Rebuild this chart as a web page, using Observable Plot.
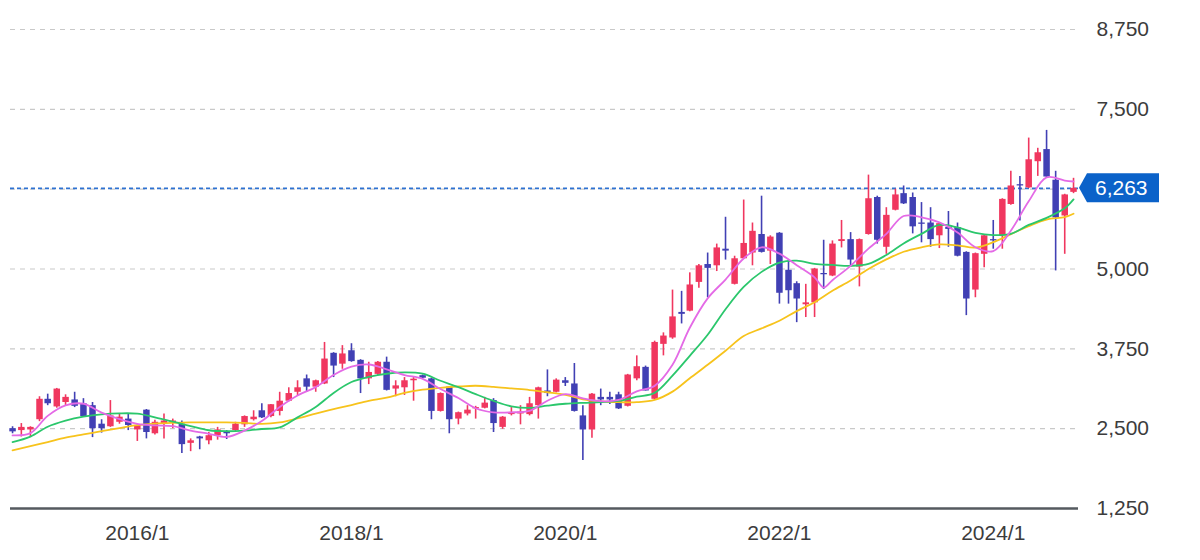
<!DOCTYPE html>
<html><head><meta charset="utf-8">
<script src="https://cdn.jsdelivr.net/npm/d3@7"></script>
<script src="https://cdn.jsdelivr.net/npm/@observablehq/plot@0.6"></script>
<style>
body{margin:0;background:#fff;}
#chart{width:1200px;height:560px;}
</style></head><body><div id="chart"></div>
<script>
// Monthly candles, 2014/11 .. 2024/10
const months = [
  "2014-11","2014-12",
  "2015-01","2015-02","2015-03","2015-04","2015-05","2015-06","2015-07","2015-08","2015-09","2015-10","2015-11","2015-12",
  "2016-01","2016-02","2016-03","2016-04","2016-05","2016-06","2016-07","2016-08","2016-09","2016-10","2016-11","2016-12",
  "2017-01","2017-02","2017-03","2017-04","2017-05","2017-06","2017-07","2017-08","2017-09","2017-10","2017-11","2017-12",
  "2018-01","2018-02","2018-03","2018-04","2018-05","2018-06","2018-07","2018-08","2018-09","2018-10","2018-11","2018-12",
  "2019-01","2019-02","2019-03","2019-04","2019-05","2019-06","2019-07","2019-08","2019-09","2019-10","2019-11","2019-12",
  "2020-01","2020-02","2020-03","2020-04","2020-05","2020-06","2020-07","2020-08","2020-09","2020-10","2020-11","2020-12",
  "2021-01","2021-02","2021-03","2021-04","2021-05","2021-06","2021-07","2021-08","2021-09","2021-10","2021-11","2021-12",
  "2022-01","2022-02","2022-03","2022-04","2022-05","2022-06","2022-07","2022-08","2022-09","2022-10","2022-11","2022-12",
  "2023-01","2023-02","2023-03","2023-04","2023-05","2023-06","2023-07","2023-08","2023-09","2023-10","2023-11","2023-12",
  "2024-01","2024-02","2024-03","2024-04","2024-05","2024-06","2024-07","2024-08","2024-09","2024-10"
];
const openPrices = [
  2500,2470,2480,2640,2960,2840,2910,2950,2890,2860,2570,2530,2600,2650,
  2480,2790,2420,2580,2590,2570,2270,2370,2310,2390,2440,2470,
  2560,2640,2780,2690,2770,2930,3070,3280,3150,3200,3680,3510,
  3720,3570,3280,3350,3540,3120,3140,3250,3330,3280,2770,3150,
  2650,2730,2810,2820,2940,2520,2720,2730,2720,2860,3090,3070,
  3250,3200,2700,2480,2990,2990,3030,2850,3280,3460,2960,3820,
  3920,4320,4340,4790,5070,5050,5310,4760,5160,5250,5540,5280,
  5560,4980,4770,4440,4470,4930,4890,5430,5460,5030,5540,6120,
  5340,5920,6180,6120,5720,5720,5520,5650,5650,5260,4670,5230,
  5460,5520,6010,6320,6270,6680,6870,6390,5830,6200
];
const highPrices = [
  2530,2580,2530,3000,3040,3130,3030,3070,2970,2910,2640,2940,2730,2730,
  2560,2800,2630,2730,2650,2620,2340,2380,2440,2520,2470,2600,
  2700,2780,2890,2880,3070,3140,3250,3340,3260,3850,3690,3800,
  3830,3580,3540,3550,3620,3250,3300,3300,3340,3290,3060,3160,
  2760,2860,2850,2990,2970,2690,2830,2860,2990,3150,3420,3280,
  3300,3520,2860,3050,3120,3070,3070,3350,3640,3480,3870,4000,
  4670,4650,4940,5070,5250,5390,5810,5200,6080,5720,6140,5520,
  5570,5130,4800,4760,5010,5450,5440,5760,5570,5470,6470,6140,
  5960,6250,6300,6190,6040,5960,5720,5900,5720,5270,5250,5530,
  5760,6100,6530,6450,7050,6890,7170,6530,6170,6420
];
const lowPrices = [
  2420,2370,2370,2610,2860,2820,2850,2830,2680,2360,2430,2520,2570,2470,
  2300,2340,2400,2340,2500,2110,2140,2170,2250,2320,2330,2440,
  2520,2620,2660,2670,2700,2920,3010,3070,3070,3190,3300,3430,
  3540,3050,3190,3330,3090,3000,3020,2930,3280,2640,2760,2420,
  2560,2700,2650,2810,2440,2490,2700,2560,2700,2650,3000,3060,
  3160,2760,2000,2350,2860,2880,2800,2840,3250,3090,2950,3640,
  3900,4140,4330,4700,4550,4960,5140,4750,5150,5050,5250,5070,
  4450,4450,4160,4240,4240,4680,4880,5330,5030,4720,5530,5390,
  5230,5910,6010,5550,5410,5340,5320,5340,5190,4270,4550,5020,
  5310,5310,6000,5750,6260,6450,6430,4970,5230,6180
];
const closePrices = [
  2450,2520,2520,2960,2890,3120,2990,2850,2690,2500,2500,2700,2680,2550,
  2550,2440,2600,2620,2620,2250,2310,2340,2390,2480,2420,2570,
  2690,2680,2670,2875,2930,3050,3140,3150,3250,3590,3480,3670,
  3550,3280,3380,3540,3100,3170,3250,3275,3290,2770,3050,2640,
  2750,2790,2830,2900,2580,2680,2755,2760,2890,3140,3050,3260,
  3210,2770,2480,3040,2950,2950,2810,3340,3470,3090,3850,3950,
  4250,4290,4750,5050,5010,5330,5280,5160,5400,5590,5260,5500,
  4620,4660,4530,4470,5000,4910,5390,5460,5140,5460,6100,5450,
  5840,6160,6020,5660,5700,5460,5710,5620,5200,4530,5240,5520,
  5440,6090,6300,6300,6710,6820,6440,5800,6160,6263
];

// Moving averages: [month, value]
const maShort = [
  ["2014-11",2395],["2015-01",2430],["2015-03",2700],["2015-05",2865],["2015-07",2890],["2015-09",2750],["2015-11",2650],
  ["2016-01",2575],["2016-03",2550],["2016-05",2540],["2016-07",2470],["2016-09",2420],["2016-11",2370],
  ["2017-01",2470],["2017-03",2620],["2017-05",2840],["2017-07",3020],["2017-09",3150],["2017-11",3340],
  ["2018-01",3470],["2018-03",3505],["2018-05",3430],["2018-07",3340],["2018-09",3280],["2018-11",3120],
  ["2019-01",2980],["2019-03",2820],["2019-05",2755],["2019-07",2755],["2019-09",2780],["2019-11",2937],
  ["2020-01",3042],["2020-03",2975],["2020-05",2930],["2020-07",2950],["2020-09",3085],["2020-11",3170],
  ["2021-01",3500],["2021-03",4080],["2021-05",4540],["2021-07",4835],["2021-09",5165],["2021-11",5340],
  ["2022-01",5240],["2022-03",5060],["2022-05",4870],["2022-06",4710],["2022-07",4825],["2022-09",5050],["2022-11",5320],
  ["2023-01",5550],["2023-03",5830],["2023-05",5810],["2023-07",5730],["2023-09",5570],["2023-11",5340],
  ["2024-01",5280],["2024-03",5600],["2024-05",6060],["2024-07",6435],["2024-09",6385],["2024-10",6370]
];
const maMid = [
  ["2014-11",2290],["2015-01",2375],["2015-03",2530],["2015-05",2625],["2015-07",2688],["2015-09",2725],["2015-11",2740],
  ["2016-01",2735],["2016-03",2677],["2016-05",2610],["2016-07",2540],["2016-09",2475],["2016-11",2460],
  ["2017-01",2470],["2017-03",2495],["2017-05",2520],["2017-07",2677],["2017-09",2840],["2017-11",3060],
  ["2018-01",3230],["2018-03",3310],["2018-05",3360],["2018-07",3380],["2018-09",3360],["2018-11",3250],
  ["2019-01",3150],["2019-03",3040],["2019-05",2935],["2019-07",2850],["2019-09",2825],["2019-11",2860],
  ["2020-01",2890],["2020-03",2905],["2020-05",2915],["2020-07",2935],["2020-09",3000],["2020-11",3060],
  ["2021-01",3330],["2021-03",3640],["2021-05",3970],["2021-07",4370],["2021-09",4720],["2021-11",4955],
  ["2022-01",5100],["2022-03",5130],["2022-05",5080],["2022-07",5063],["2022-09",5050],["2022-11",5080],
  ["2023-01",5220],["2023-03",5400],["2023-05",5550],["2023-07",5690],["2023-09",5650],["2023-11",5565],
  ["2024-01",5530],["2024-03",5550],["2024-05",5690],["2024-07",5800],["2024-09",5950],["2024-10",6089]
];
const maLong = [
  ["2014-11",2160],["2015-01",2225],["2015-03",2290],["2015-05",2360],["2015-07",2410],["2015-09",2460],["2015-11",2510],
  ["2016-01",2555],["2016-03",2580],["2016-05",2592],["2016-07",2598],["2016-09",2598],["2016-11",2598],
  ["2017-01",2590],["2017-03",2575],["2017-05",2598],["2017-07",2660],["2017-09",2735],["2017-11",2805],
  ["2018-01",2870],["2018-03",2935],["2018-05",2985],["2018-07",3060],["2018-09",3110],["2018-11",3140],
  ["2019-01",3160],["2019-03",3172],["2019-05",3155],["2019-07",3130],["2019-09",3105],["2019-11",3070],
  ["2020-01",3030],["2020-03",2960],["2020-05",2927],["2020-07",2915],["2020-09",2915],["2020-11",2950],
  ["2021-01",3080],["2021-03",3290],["2021-05",3500],["2021-07",3720],["2021-09",3950],["2021-11",4070],
  ["2022-01",4190],["2022-03",4340],["2022-05",4480],["2022-07",4660],["2022-09",4820],["2022-11",5000],
  ["2023-01",5150],["2023-03",5270],["2023-05",5340],["2023-07",5385],["2023-09",5370],["2023-11",5335],
  ["2024-01",5420],["2024-03",5545],["2024-05",5670],["2024-07",5775],["2024-09",5812],["2024-10",5865]
];

const lastPrice = 6263;
const xTickMonths = ["2016-01","2018-01","2020-01","2022-01","2024-01"];
const yLabelTicks = [1250, 2500, 3750, 5000, 7500, 8750];
const yGridTicks = [2500, 3750, 5000, 6250, 7500, 8750];

const RED = "#f0375f", BLUE = "#4140b4";
const parse = d3.utcParse("%Y-%m");
const candles = months.map((m, i) => ({
  date: parse(m), open: openPrices[i], high: highPrices[i], low: lowPrices[i], close: closePrices[i],
  dir: closePrices[i] >= openPrices[i] ? "up" : "down"
}));
const toPts = arr => arr.map(([m, v]) => ({date: parse(m), value: v}));

const chart = Plot.plot({
  width: 1200, height: 560,
  marginLeft: 10, marginRight: 122, marginTop: 29, marginBottom: 52,
  style: {fontFamily: "'Liberation Sans', Arial, sans-serif", fontSize: "21px", color: "#3c3c3c", background: "#fff", overflow: "visible"},
  x: {type: "utc", domain: [new Date(Date.UTC(2014, 9, 25)), new Date(Date.UTC(2024, 9, 18))], label: null},
  y: {domain: [1250, 8750], label: null},
  color: {domain: ["up", "down"], range: [RED, BLUE]},
  marks: [
    Plot.gridY(yGridTicks, {stroke: "#c9c9c9", strokeOpacity: 1, strokeDasharray: "5,5", strokeWidth: 1.2}),
    Plot.ruleY([lastPrice], {stroke: "#2e72d2", strokeDasharray: "4,3", strokeWidth: 1.6}),
    Plot.ruleX(candles, {x: "date", y1: "low", y2: "high", stroke: "dir", strokeWidth: 1.6}),
    Plot.ruleX(candles, {x: "date", y1: "open", y2: "close", stroke: "dir", strokeWidth: 6.5}),
    Plot.line(toPts(maLong), {x: "date", y: "value", stroke: "#f7c31c", strokeWidth: 1.8, curve: "catmull-rom"}),
    Plot.line(toPts(maMid), {x: "date", y: "value", stroke: "#2bc76c", strokeWidth: 1.8, curve: "catmull-rom"}),
    Plot.line(toPts(maShort), {x: "date", y: "value", stroke: "#e46ae6", strokeWidth: 1.8, curve: "catmull-rom"}),
    Plot.ruleY([1250], {stroke: "#555a5f", strokeWidth: 2.5}),
    Plot.axisX(xTickMonths.map(parse), {tickFormat: d3.utcFormat("%Y/%-m"), tickSize: 0, tickPadding: 17, fontSize: 21, label: null}),
    Plot.axisY(yLabelTicks, {anchor: "right", tickFormat: d3.format(","), tickSize: 0, tickPadding: 18, fontSize: 21, label: null})
  ]
});

// Current price badge on the right axis
const svg = d3.select(chart);
const yPos = chart.scale("y").apply(lastPrice);
const xEdge = 1200 - 122;
const g = svg.append("g");
g.append("path")
  .attr("d", `M${xEdge + 1},${yPos} L${xEdge + 9},${yPos - 14.5} L${xEdge + 81},${yPos - 14.5} L${xEdge + 81},${yPos + 14.5} L${xEdge + 9},${yPos + 14.5} Z`)
  .attr("fill", "#0b62c9");
g.append("text")
  .attr("x", xEdge + 17).attr("y", yPos).attr("dy", "0.35em")
  .attr("text-anchor", "start")
  .attr("fill", "#fff").attr("font-size", 21)
  .attr("font-family", "'Liberation Sans', Arial, sans-serif")
  .text(d3.format(",")(lastPrice));

document.getElementById("chart").appendChild(chart);
</script>
</body></html>
